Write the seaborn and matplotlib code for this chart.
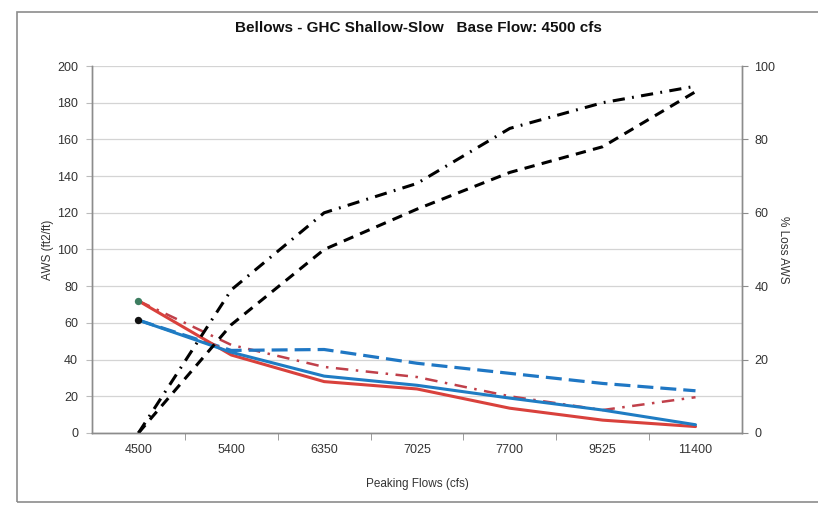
# imports
import numpy as np
import pandas as pd
import matplotlib.pyplot as plt
import seaborn as sns
from matplotlib.patches import Rectangle

# data
flows = ["4500", "5400", "6350", "7025", "7700", "9525", "11400"]
aws_blue = [61.5, 44, 31, 26, 19, 12.5, 4.5]
aws_red = [72, 42.5, 28, 24, 13.5, 7, 3.5]
aws_blue_dash = [61.5, 45, 45.5, 38, 32.5, 27, 23]
aws_red_dashdot = [72, 48, 36, 30.5, 20, 12.5, 19.5]
loss_dashdot = [0, 39, 60, 68, 83, 90, 94.5]
loss_dash = [0, 29.5, 50, 61, 71, 78, 93]

sns.set_style("white")
plt.rcParams["font.family"] = ["Liberation Sans", "DejaVu Sans"]

pos = np.arange(len(flows))

fig = plt.figure(figsize=(8.18, 5.05), dpi=100)
ax = fig.add_axes([0.1125, 0.1426, 0.7945, 0.7267])
ax2 = ax.twinx()

# outer chart border
fig.patches.append(Rectangle((17 / 818, 3 / 505), 1.0, 490 / 505, transform=fig.transFigure,
                             fill=False, edgecolor="#8c8c8c", linewidth=1.2))

# left axis series (AWS)
left_series = [
    (aws_red_dashdot, "#c0404a", (0, (5, 3, 1, 3)), 1.8),
    (aws_blue_dash, "#1f77c4", (0, (5, 2.2)), 2.3),
    (aws_red, "#d9413c", "-", 2.2),
    (aws_blue, "#1f7cc3", "-", 2.2),
]
for vals, color, ls, lw in left_series:
    df = pd.DataFrame({"x": pos, "y": vals})
    sns.lineplot(data=df, x="x", y="y", ax=ax, color=color, linestyle=ls, linewidth=lw)

# start markers
sns.scatterplot(x=[pos[0]], y=[aws_red[0]], ax=ax, color="#3d7d60", s=28, zorder=5, linewidth=0)
sns.scatterplot(x=[pos[0]], y=[aws_blue[0]], ax=ax, color="#111111", s=28, zorder=5, linewidth=0)

# right axis series (% loss)
for vals, ls in [(loss_dashdot, (0, (4, 2.4, 0.6, 2.4))), (loss_dash, (0, (3.4, 2.4)))]:
    df = pd.DataFrame({"x": pos, "y": vals})
    sns.lineplot(data=df, x="x", y="y", ax=ax2, color="black", linestyle=ls, linewidth=2.2)

# axes formatting
ax.set_xlim(-0.5, len(flows) - 0.5)
ax.set_ylim(0, 200)
ax2.set_ylim(0, 100)
ax.set_yticks(np.arange(0, 201, 20))
ax2.set_yticks(np.arange(0, 101, 20))
ax.set_xticks(pos)
ax.set_xticklabels(flows)
ax.set_xticks(pos[:-1] + 0.5, minor=True)
ax.yaxis.grid(True, color="#d4d4d4", linewidth=0.9)
ax.set_axisbelow(True)

ax.tick_params(axis="x", which="major", length=0, pad=8, labelsize=9, labelcolor="#333333")
ax.tick_params(axis="x", which="minor", length=5, direction="out", color="#8c8c8c", bottom=True)
ax.tick_params(axis="y", length=4, direction="out", color="#bbbbbb", labelsize=9,
               labelcolor="#333333", pad=6, left=True)
ax2.tick_params(axis="y", length=4, direction="out", color="#8c8c8c", labelsize=9,
                labelcolor="#333333", pad=5, right=True)

for a in (ax, ax2):
    for side in ["left", "right", "bottom"]:
        a.spines[side].set_color("#8c8c8c")
        a.spines[side].set_linewidth(1.0)
    a.spines["top"].set_visible(False)

ax.set_xlabel("Peaking Flows (cfs)", fontsize=8.5, color="#333333", labelpad=16)
ax.set_ylabel("AWS (ft2/ft)", fontsize=8.5, color="#333333", labelpad=2)
ax2.set_ylabel("% Loss AWS", fontsize=8.5, color="#333333", rotation=270, labelpad=10)

fig.text(0.511, 0.944, "Bellows - GHC Shallow-Slow   Base Flow: 4500 cfs",
         ha="center", va="center", fontsize=11, fontweight="bold", color="#111111")

fig.savefig("out.png", dpi=100)
